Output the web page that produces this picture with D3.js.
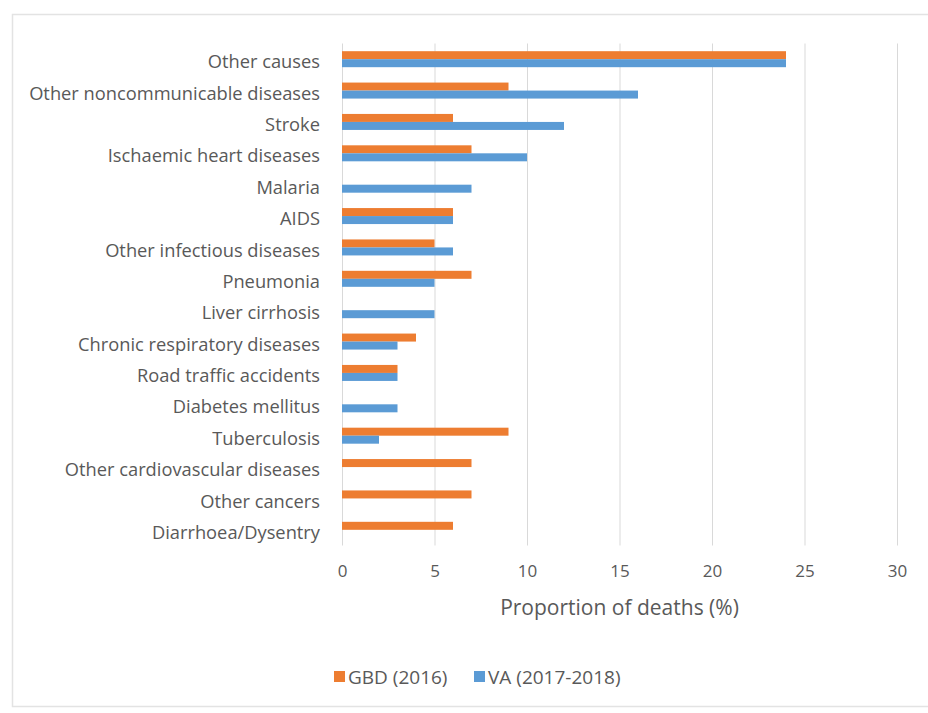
<!DOCTYPE html>
<html>
<head>
<meta charset="utf-8">
<script src="https://cdn.jsdelivr.net/npm/d3@7"></script>
<style>
  html, body { margin: 0; padding: 0; background: #fff; }
  svg { display: block; }
  text { font-family: "Open Sans", Lato, sans-serif; fill: #595959; }
</style>
</head>
<body>
<svg id="chart" width="928" height="713"></svg>
<script>
// Causes of death, top to bottom
const causes = [
  "Other causes",
  "Other noncommunicable diseases",
  "Stroke",
  "Ischaemic heart diseases",
  "Malaria",
  "AIDS",
  "Other infectious diseases",
  "Pneumonia",
  "Liver cirrhosis",
  "Chronic respiratory diseases",
  "Road traffic accidents",
  "Diabetes mellitus",
  "Tuberculosis",
  "Other cardiovascular diseases",
  "Other cancers",
  "Diarrhoea/Dysentry"
];

// Proportion of deaths (%), null where the cause is not reported
const gbd2016 = [24, 9, 6, 7, null, 6, 5, 7, null, 4, 3, null, 9, 7, 7, 6];
const va20172018 = [24, 16, 12, 10, 7, 6, 6, 5, 5, 3, 3, 3, 2, null, null, null];

const seriesNames = ["GBD (2016)", "VA (2017-2018)"];
const seriesColors = ["#ED7D31", "#5B9BD5"];
const xTicks = [0, 5, 10, 15, 20, 25, 30];

const svg = d3.select("#chart");

// light frame around the chart area
svg.append("rect")
  .attr("x", 12.5).attr("y", 14.5)
  .attr("width", 930).attr("height", 692)
  .attr("fill", "none")
  .attr("stroke", "#e3e3e3")
  .attr("stroke-width", 1.5);

const plot = { left: 342, right: 897, top: 43.5, bottom: 545.5 };

const x = d3.scaleLinear().domain([0, 30]).range([plot.left, plot.right]);
const y = d3.scaleBand().domain(causes).range([plot.top, plot.bottom]).paddingInner(0.49).paddingOuter(0.245);
const ySub = d3.scaleBand().domain(seriesNames).range([0, y.bandwidth()]);

// vertical gridlines
svg.append("g")
  .selectAll("line")
  .data(xTicks)
  .join("line")
  .attr("x1", d => x(d) + 0.5).attr("x2", d => x(d) + 0.5)
  .attr("y1", plot.top).attr("y2", plot.bottom)
  .attr("stroke", "#d9d9d9")
  .attr("stroke-width", 1);

// bars
const series = [gbd2016, va20172018];
series.forEach((vals, si) => {
  svg.append("g")
    .selectAll("rect")
    .data(causes.map((c, i) => ({ c, v: vals[i] })).filter(d => d.v != null))
    .join("rect")
    .attr("x", x(0))
    .attr("y", d => y(d.c) + ySub(seriesNames[si]))
    .attr("width", d => x(d.v) - x(0))
    .attr("height", ySub.bandwidth())
    .attr("fill", seriesColors[si]);
});

// category labels
const yAxis = d3.axisLeft(y).tickSize(0).tickPadding(22);
const gy = svg.append("g").attr("transform", `translate(${plot.left},0)`).call(yAxis);
gy.select(".domain").remove();
gy.selectAll("text")
  .attr("font-size", 18.3)
  .attr("font-family", null)
  .attr("fill", "#595959")
  .attr("dy", "0.5em");

// x axis tick labels
const xAxis = d3.axisBottom(x).tickValues(xTicks).tickSize(0).tickPadding(19);
const gx = svg.append("g").attr("transform", `translate(0,${plot.bottom})`).call(xAxis);
gx.select(".domain").remove();
gx.selectAll("text")
  .attr("font-size", 17)
  .attr("font-family", null)
  .attr("fill", "#595959");

// x axis title
svg.append("text")
  .attr("x", (plot.left + plot.right) / 2)
  .attr("y", 615)
  .attr("text-anchor", "middle")
  .attr("font-size", 21)
  .text("Proportion of deaths (%)");

// legend
const legend = svg.append("g").attr("transform", "translate(334,671)");
const legendItems = [
  { name: seriesNames[0], color: seriesColors[0], dx: 0 },
  { name: seriesNames[1], color: seriesColors[1], dx: 140 }
];
const li = legend.selectAll("g").data(legendItems).join("g")
  .attr("transform", d => `translate(${d.dx},0)`);
li.append("rect").attr("width", 11).attr("height", 11).attr("fill", d => d.color);
li.append("text").attr("x", 14).attr("y", 12.5).attr("font-size", 19).text(d => d.name);
</script>
</body>
</html>
